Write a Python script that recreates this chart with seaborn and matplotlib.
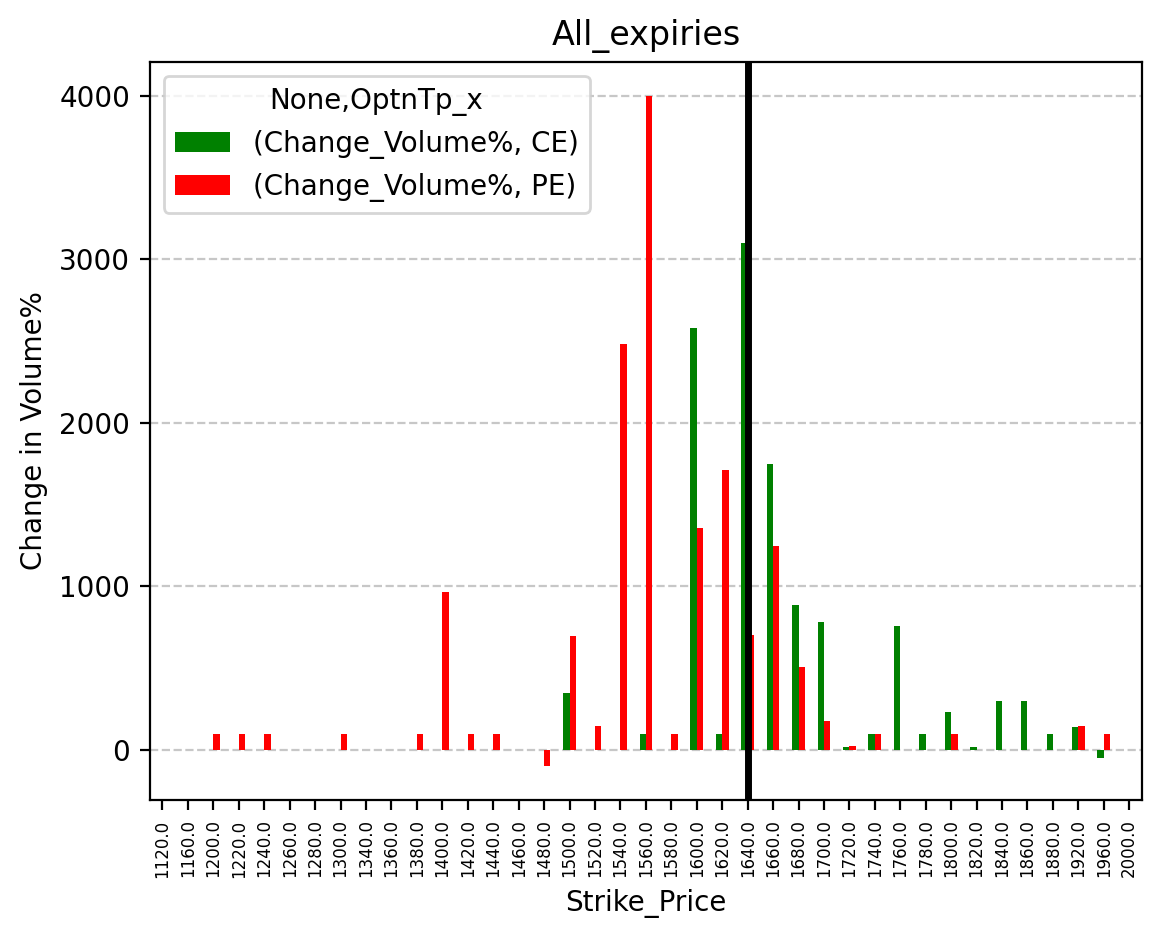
import pandas as pd
import matplotlib.pyplot as plt
import seaborn as sns

# Strike prices present in the data (categorical x axis)
strikes = [1120, 1160, 1200, 1220, 1240, 1260, 1280, 1300, 1340, 1360,
           1380, 1400, 1420, 1440, 1460, 1480, 1500, 1520, 1540, 1560,
           1580, 1600, 1620, 1640, 1660, 1680, 1700, 1720, 1740, 1760,
           1780, 1800, 1820, 1840, 1860, 1880, 1920, 1960, 2000]

# Change in volume % for calls and puts
ce_change = [0, 0, 0, 0, 0, 0, 0, 0, 0, 0,
             0, 0, 0, 0, 0, 0, 350, 0, 0, 100,
             0, 2580, 100, 3100, 1750, 885, 780, 22, 100, 760,
             100, 230, 22, 300, 300, 100, 140, -50, 0]
pe_change = [0, 0, 100, 100, 100, 0, 0, 100, 0, 0,
             100, 965, 100, 100, 0, -100, 700, 150, 2480, 4000,
             100, 1355, 1710, 705, 1245, 505, 180, 28, 100, 0,
             0, 100, 0, 0, 0, 0, 150, 100, 0]

option_types = ['CE', 'PE']
legend_labels = ['(Change_Volume%, CE)', '(Change_Volume%, PE)']
spot_strike = 1640

labels = [f'{s:.1f}' for s in strikes]
df = pd.DataFrame({
    'Strike_Price': labels * 2,
    'OptnTp_x': ['CE'] * len(strikes) + ['PE'] * len(strikes),
    'Change_Volume%': ce_change + pe_change,
})

fig, ax = plt.subplots(figsize=(5.805, 4.695), dpi=200)
fig.subplots_adjust(left=0.129, right=0.9836, top=0.934, bottom=0.148)

sns.barplot(data=df, x='Strike_Price', y='Change_Volume%', hue='OptnTp_x',
            order=labels, hue_order=option_types,
            palette={'CE': 'green', 'PE': 'red'},
            width=0.5, gap=0, errorbar=None, saturation=1, ax=ax)

# spot price marker
ax.axvline(labels.index(f'{spot_strike:.1f}'), color='black', linewidth=2.5)

ax.set_xlim(-0.5, len(strikes) - 0.5)
ax.yaxis.grid(True, linestyle='--', alpha=0.7)
ax.set_axisbelow(True)
ax.tick_params(axis='x', labelsize=6, labelrotation=90)

ax.set_title('All_expiries')
ax.set_xlabel('Strike_Price')
ax.set_ylabel('Change in Volume%')

handles, _ = ax.get_legend_handles_labels()
ax.legend(handles, legend_labels, title='None,OptnTp_x', loc='upper left')

plt.savefig('out.png', dpi=200)
